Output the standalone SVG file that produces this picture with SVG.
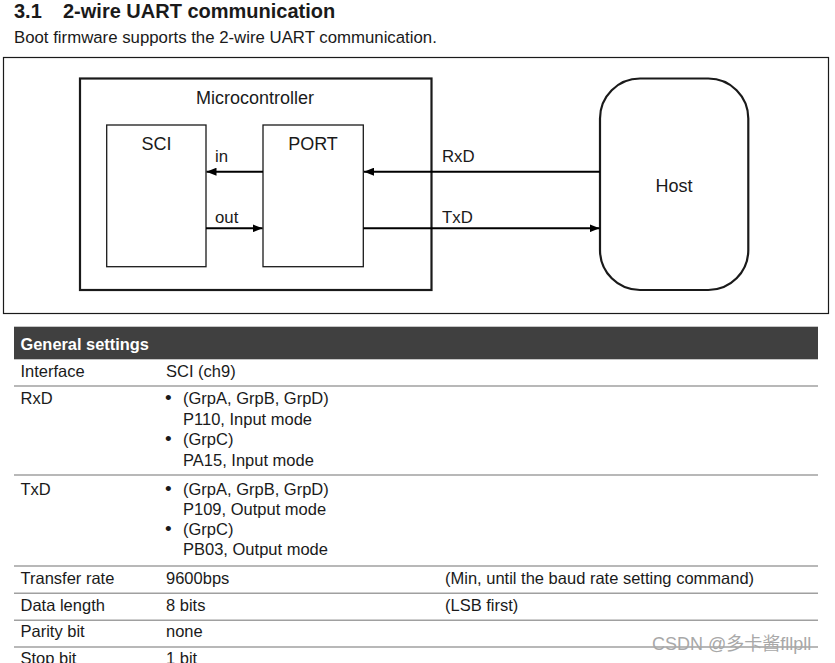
<svg xmlns="http://www.w3.org/2000/svg" width="835" height="663" viewBox="0 0 835 663">
<style>
text{font-family:"Liberation Sans",Arial,sans-serif;fill:#1a1a1a}
.t{font-size:16.5px}
.lbl{font-size:18px}
.el{font-size:16.8px}
.box{fill:#fff;stroke:#1a1a1a}
.sep{stroke:#a0a0a0;stroke-width:1.5}
.conn{stroke:#000;stroke-width:2;fill:none}
</style>
<defs>
<marker id="arr" viewBox="0 0 10 8" refX="10" refY="4" markerWidth="10" markerHeight="8" markerUnits="userSpaceOnUse" orient="auto">
<path d="M0,0 L10,4 L0,8 z" fill="#000"/>
</marker>
</defs>
<rect width="835" height="663" fill="#fff"/>
<text x="14" y="17.5" style="font-size:20px;font-weight:bold">3.1</text>
<text x="63" y="17.5" style="font-size:20px;font-weight:bold">2-wire UART communication</text>
<text x="14" y="43" style="font-size:16.8px">Boot firmware supports the 2-wire UART communication.</text>
<rect x="3.5" y="57.5" width="825" height="256" fill="none" stroke="#1a1a1a" stroke-width="1.2"/>
<g id="microcontroller">
<rect class="box" x="80" y="78.5" width="351.5" height="211.5" stroke-width="2.2"/>
<text class="lbl" x="255" y="104" text-anchor="middle">Microcontroller</text>
</g>
<g id="sci">
<rect class="box" x="106.7" y="125" width="99.3" height="141.7" stroke-width="1.3"/>
<text class="lbl" x="156.5" y="150" text-anchor="middle">SCI</text>
</g>
<g id="port">
<rect class="box" x="263" y="125" width="100.3" height="141.7" stroke-width="1.3"/>
<text class="lbl" x="313" y="150" text-anchor="middle">PORT</text>
</g>
<g id="host">
<rect class="box" x="600" y="78.5" width="148.3" height="211.5" rx="40" ry="40" stroke-width="2.2"/>
<text class="lbl" x="674" y="191.5" text-anchor="middle">Host</text>
</g>
<g id="connectors">
<line class="conn" x1="263" y1="171.7" x2="206.5" y2="171.7" marker-end="url(#arr)"/>
<line class="conn" x1="206" y1="228.3" x2="262.5" y2="228.3" marker-end="url(#arr)"/>
<line class="conn" x1="600" y1="171.7" x2="364" y2="171.7" marker-end="url(#arr)"/>
<line class="conn" x1="363.3" y1="228.3" x2="599.5" y2="228.3" marker-end="url(#arr)"/>
<text class="el" x="215" y="162">in</text>
<text class="el" x="215" y="222.5">out</text>
<text class="el" x="442" y="162">RxD</text>
<text class="el" x="442" y="222.5">TxD</text>
</g>
<g id="table">
<rect x="14" y="326.7" width="804" height="32.6" fill="#404040"/>
<text x="20.5" y="349.5" style="font-size:16.4px;font-weight:bold;fill:#fff">General settings</text>
<text class="t" x="20.5" y="377">Interface</text>
<text class="t" x="166" y="377">SCI (ch9)</text>
<line class="sep" x1="14" y1="386" x2="818" y2="386"/>
<text class="t" x="20.5" y="404">RxD</text>
<text class="t" x="165" y="404" style="font-size:19px">•</text>
<text class="t" x="183" y="404">(GrpA, GrpB, GrpD)</text>
<text class="t" x="183" y="424.5">P110, Input mode</text>
<text class="t" x="165" y="445" style="font-size:19px">•</text>
<text class="t" x="183" y="445">(GrpC)</text>
<text class="t" x="183" y="465.7">PA15, Input mode</text>
<line class="sep" x1="14" y1="475" x2="818" y2="475"/>
<text class="t" x="20.5" y="494.5">TxD</text>
<text class="t" x="165" y="494.5" style="font-size:19px">•</text>
<text class="t" x="183" y="494.5">(GrpA, GrpB, GrpD)</text>
<text class="t" x="183" y="514.5">P109, Output mode</text>
<text class="t" x="165" y="535" style="font-size:19px">•</text>
<text class="t" x="183" y="535">(GrpC)</text>
<text class="t" x="183" y="555.3">PB03, Output mode</text>
<line class="sep" x1="14" y1="566" x2="818" y2="566"/>
<text class="t" x="20.5" y="583.5">Transfer rate</text>
<text class="t" x="166" y="583.5">9600bps</text>
<text class="t" x="445" y="583.5">(Min, until the baud rate setting command)</text>
<line class="sep" x1="14" y1="593.3" x2="818" y2="593.3"/>
<text class="t" x="20.5" y="610.5">Data length</text>
<text class="t" x="166" y="610.5">8 bits</text>
<text class="t" x="445" y="610.5">(LSB first)</text>
<line class="sep" x1="14" y1="620.3" x2="818" y2="620.3"/>
<text class="t" x="20.5" y="637">Parity bit</text>
<text class="t" x="166" y="637">none</text>
<line class="sep" x1="14" y1="647" x2="818" y2="647"/>
<text class="t" x="20.5" y="663.5">Stop bit</text>
<text class="t" x="166" y="663.5">1 bit</text>
</g>
<text x="652" y="650" style="font-size:18px;fill:#a8a8a8;font-family:'Liberation Sans','Noto Sans CJK SC',sans-serif">CSDN @多卡酱fllpll</text>
</svg>
